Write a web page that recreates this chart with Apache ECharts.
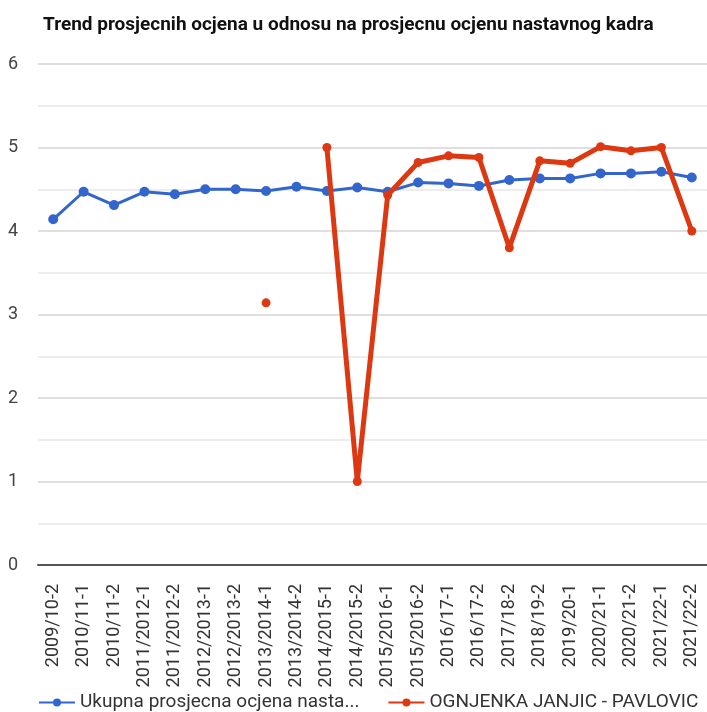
<!DOCTYPE html>
<html><head><meta charset="utf-8">
<script src="https://cdn.jsdelivr.net/npm/echarts@6/dist/echarts.min.js"></script>
<style>html,body{margin:0;padding:0;background:#fff}#c{width:707px;height:712px}</style>
</head><body><div id="c"></div>
<script>
const categories = ["2009/10-2","2010/11-1","2010/11-2","2011/2012-1","2011/2012-2","2012/2013-1","2012/2013-2","2013/2014-1","2013/2014-2","2014/2015-1","2014/2015-2","2015/2016-1","2015/2016-2","2016/17-1","2016/17-2","2017/18-2","2018/19-2","2019/20-1","2020/21-1","2020/21-2","2021/22-1","2021/22-2"];
const overallAvg = [4.14,4.47,4.31,4.47,4.44,4.50,4.50,4.48,4.53,4.48,4.52,4.47,4.58,4.57,4.54,4.61,4.63,4.63,4.69,4.69,4.71,4.64];
const teacherAvg = [null,null,null,null,null,null,null,3.14,null,5.0,1.0,4.43,4.82,4.90,4.88,3.80,4.84,4.81,5.01,4.96,5.0,4.0];
const yTicks = [0,1,2,3,4,5,6];
const seriesNames = ["Ukupna prosjecna ocjena nastavnog kadra","OGNJENKA JANJIC - PAVLOVIC"];

const chart = echarts.init(document.getElementById('c'));
chart.setOption({
  animation:false,
  title:{text:"Trend prosjecnih ocjena u odnosu na prosjecnu ocjenu nastavnog kadra",left:38,top:11,
    textStyle:{fontFamily:"Roboto",fontWeight:"bold",fontSize:19,color:"#111"}},
  grid:{left:38,right:0,top:64,bottom:147,containLabel:false},
  legend:{bottom:0,left:38,width:700,padding:0,itemGap:28,itemWidth:36,itemHeight:10,
    textStyle:{fontFamily:"Roboto",fontSize:19,color:"#333",width:282,overflow:"truncate",ellipsis:"..."},
    data:seriesNames},
  xAxis:{type:"category",data:categories,boundaryGap:true,
    axisLine:{show:true,lineStyle:{color:"#555",width:2}},axisTick:{show:false},
    axisLabel:{rotate:90,interval:0,fontFamily:"Roboto",fontSize:18,color:"#333",margin:19},
    splitLine:{show:false}},
  yAxis:{type:"value",min:yTicks[0],max:yTicks[yTicks.length-1],interval:1,
    axisLine:{show:false},axisTick:{show:false},
    axisLabel:{fontFamily:"Roboto",fontSize:18,color:"#444",margin:20},
    splitLine:{lineStyle:{color:"#d4d4d4",width:1.5}},
    minorTick:{show:false,splitNumber:2},
    minorSplitLine:{show:true,lineStyle:{color:"#e8e8e8",width:1.5}}},
  series:[
    {name:seriesNames[0],type:"line",data:overallAvg,color:"#3366cc",
     lineStyle:{width:3},symbol:"circle",symbolSize:10,z:2},
    {name:seriesNames[1],type:"line",data:teacherAvg,color:"#dc3912",
     lineStyle:{width:5},symbol:"circle",symbolSize:9,connectNulls:false,z:3}
  ]
});
</script></body></html>
